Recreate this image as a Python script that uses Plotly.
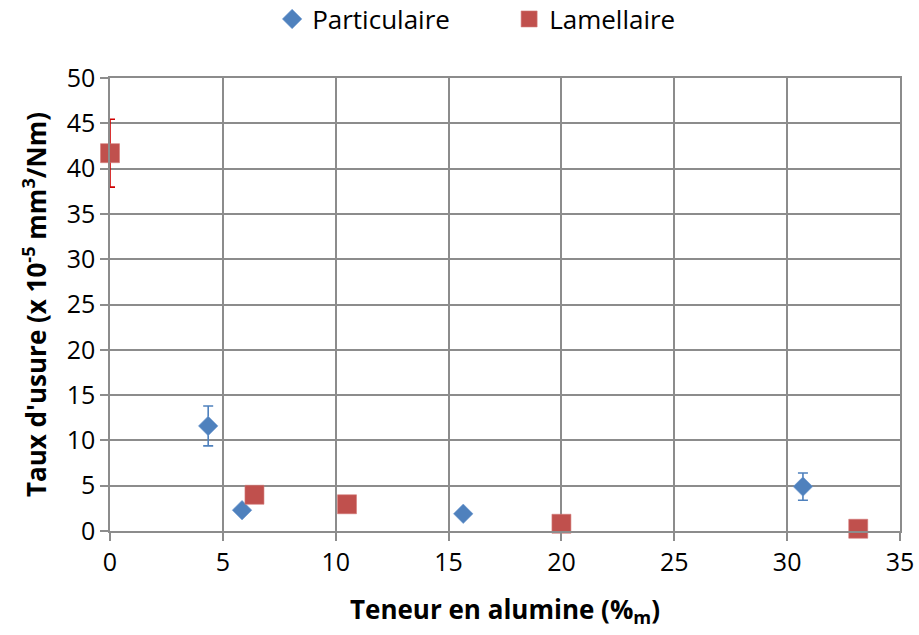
import plotly.graph_objects as go

# Wear rate vs alumina content for two reinforcement morphologies
part_x = [4.35, 5.85, 15.65, 30.7]
part_y = [11.6, 2.3, 1.9, 4.9]
part_err = [2.2, 0.0, 0.0, 1.5]

lam_x = [0.0, 6.4, 10.5, 20.0, 33.15]
lam_y = [41.7, 4.0, 2.95, 0.8, 0.25]
lam_err = [3.75, 0.0, 0.0, 0.0, 0.0]

x_ticks = [0, 5, 10, 15, 20, 25, 30, 35]
y_ticks = [0, 5, 10, 15, 20, 25, 30, 35, 40, 45, 50]

BLUE = "#4F81BD"
RED = "#C0504D"
ERR_RED = "#D00000"
FONT = "Open Sans"

fig = go.Figure()

# Error bars for the lamellar series, clipped to the plotting area
fig.add_trace(go.Scatter(
    x=lam_x, y=lam_y, mode="markers",
    marker=dict(size=1, opacity=0),
    error_y=dict(type="data", array=lam_err, visible=True,
                 color=ERR_RED, thickness=1.6, width=5),
    showlegend=False, hoverinfo="skip", cliponaxis=True,
))

fig.add_trace(go.Scatter(
    x=part_x, y=part_y, mode="markers", name="Particulaire",
    marker=dict(symbol="diamond", size=15, color=BLUE,
                line=dict(width=0.6, color="#6F9BD1")),
    error_y=dict(type="data", array=part_err, visible=True,
                 color=BLUE, thickness=1.6, width=5),
    cliponaxis=False,
))

fig.add_trace(go.Scatter(
    x=lam_x, y=lam_y, mode="markers", name="Lamellaire",
    marker=dict(symbol="square", size=19, color=RED,
                line=dict(width=0.6, color="#D47B78")),
    cliponaxis=False,
))

axis_common = dict(
    showgrid=True, gridcolor="#8C8C8C", gridwidth=1.5,
    showline=True, linecolor="#8C8C8C", linewidth=1.5,
    ticks="outside", ticklen=8, tickcolor="#8C8C8C", tickwidth=1.5,
    zeroline=False,
    tickfont=dict(family=FONT, size=25, color="#000000"),
)

fig.update_xaxes(
    range=[0, 35], tickvals=x_ticks, mirror=True,
    title=dict(text="<b>Teneur en alumine (%<sub>m</sub>)</b>",
               font=dict(family=FONT, size=26, color="#000000"), standoff=24),
    **axis_common,
)
fig.update_yaxes(
    range=[0, 50], tickvals=y_ticks, mirror=True,
    title=dict(text="<b>Taux d'usure (x 10<sup>-5</sup> mm<sup>3</sup>/Nm)</b>",
               font=dict(family=FONT, size=26, color="#000000"), standoff=13),
    **axis_common,
)

fig.update_layout(
    width=919, height=635,
    margin=dict(l=110, r=19, t=78, b=104, autoexpand=False),
    paper_bgcolor="white", plot_bgcolor="white",
    font=dict(family=FONT, color="#000000"),
    legend=dict(orientation="h", xref="container", x=0.554, xanchor="center",
                yref="container", y=0.970, yanchor="middle",
                font=dict(family=FONT, size=26, color="#000000"),
                itemwidth=30, entrywidth=192),
)

fig.write_html("out.html")
